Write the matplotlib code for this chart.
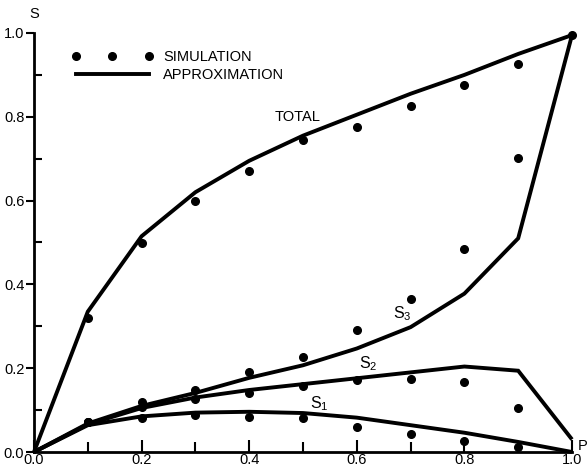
import matplotlib
matplotlib.use("Agg")
import matplotlib.pyplot as plt
from matplotlib.lines import Line2D
from matplotlib.ticker import MultipleLocator, FormatStrFormatter

plt.rcParams['font.family'] = ['Liberation Sans', 'DejaVu Sans']

# Simulation results
x_sim = [0.1, 0.2, 0.3, 0.4, 0.5, 0.6, 0.7, 0.8, 0.9, 1.0]
total_sim = [0.32, 0.50, 0.60, 0.67, 0.745, 0.775, 0.825, 0.875, 0.925, 0.995]
x_sub = [0.1, 0.2, 0.3, 0.4, 0.5, 0.6, 0.7, 0.8, 0.9]
s3_sim = [0.072, 0.12, 0.148, 0.19, 0.226, 0.292, 0.364, 0.484, 0.702]
s2_sim = [0.072, 0.107, 0.126, 0.142, 0.158, 0.173, 0.175, 0.168, 0.106]
s1_sim = [0.072, 0.082, 0.088, 0.084, 0.082, 0.060, 0.042, 0.026, 0.013]

# Approximation curves
x_apx = [0.0, 0.1, 0.2, 0.3, 0.4, 0.5, 0.6, 0.7, 0.8, 0.9, 1.0]
total_apx = [0.0, 0.335, 0.515, 0.62, 0.695, 0.755, 0.805, 0.855, 0.90, 0.95, 0.995]
s3_apx = [0.0, 0.068, 0.11, 0.141, 0.177, 0.207, 0.247, 0.298, 0.378, 0.51, 0.995]
s2_apx = [0.0, 0.066, 0.105, 0.13, 0.148, 0.162, 0.176, 0.19, 0.204, 0.194, 0.03]
s1_apx = [0.0, 0.064, 0.085, 0.094, 0.096, 0.093, 0.082, 0.064, 0.046, 0.024, 0.0]

fig = plt.figure(figsize=(5.88, 4.68), dpi=100)
ax = fig.add_axes([34/588, 16/468, 538/588, 419/468])

lw = 2.8
for y in (total_apx, s3_apx, s2_apx, s1_apx):
    ax.plot(x_apx, y, color='black', lw=lw, solid_joinstyle='miter',
            solid_capstyle='butt', clip_on=False, zorder=2)
for xs, y in ((x_sim, total_sim), (x_sub, s3_sim), (x_sub, s2_sim), (x_sub, s1_sim)):
    ax.plot(xs, y, 'o', color='black', ms=5.5, clip_on=False, zorder=3)

fs = 10.5
ax.text(0.49, 0.80, 'TOTAL', fontsize=fs, ha='center', va='center')
ax.text(0.685, 0.33, '$\\mathregular{S_3}$', fontsize=11.5, ha='center', va='center')
ax.text(0.622, 0.212, '$\\mathregular{S_2}$', fontsize=11.5, ha='center', va='center')
ax.text(0.53, 0.115, '$\\mathregular{S_1}$', fontsize=11.5, ha='center', va='center')

handles = [Line2D([], [], ls='none', marker='o', ms=5.5, color='black'),
           Line2D([], [], color='black', lw=lw)]
ax.legend(handles, ['SIMULATION', 'APPROXIMATION'], numpoints=3, handlelength=5.6,
          handletextpad=0.7, labelspacing=0.25, frameon=False, fontsize=fs,
          loc='upper left', bbox_to_anchor=(0.045, 0.99))

ax.set_xlim(0, 1.0)
ax.set_ylim(0, 1.0)
ax.spines['top'].set_visible(False)
ax.spines['right'].set_visible(False)
for s in ('left', 'bottom'):
    ax.spines[s].set_linewidth(2.0)

ax.xaxis.set_major_locator(MultipleLocator(0.2))
ax.xaxis.set_minor_locator(MultipleLocator(0.1))
ax.yaxis.set_major_locator(MultipleLocator(0.2))
ax.yaxis.set_minor_locator(MultipleLocator(0.1))
ax.xaxis.set_major_formatter(FormatStrFormatter('%.1f'))
ax.yaxis.set_major_formatter(FormatStrFormatter('%.1f'))
ax.tick_params(axis='x', which='major', direction='in', length=9, width=1.5,
               labelsize=fs, pad=1)
ax.tick_params(axis='x', which='minor', direction='in', length=7, width=1.5)
ax.tick_params(axis='y', which='major', direction='out', length=6, width=1.5,
               labelsize=fs, pad=1)
ax.tick_params(axis='y', which='minor', direction='in', length=6, width=1.5)

fig.text(34/588, 1 - 14/468, 'S', fontsize=fs, ha='center', va='center')
fig.text(578/588, 1 - 446/468, 'P', fontsize=fs, ha='left', va='center')

fig.savefig('out.png', dpi=100)
